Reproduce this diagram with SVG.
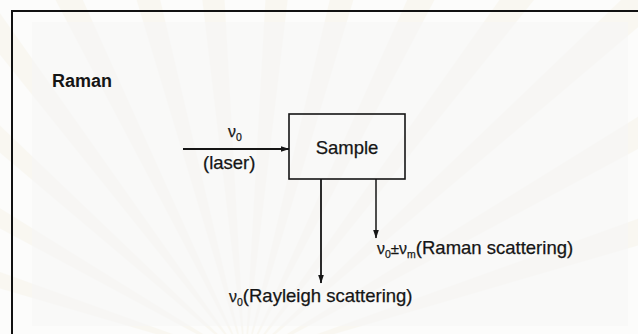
<svg xmlns="http://www.w3.org/2000/svg" xmlns:xlink="http://www.w3.org/1999/xlink" width="638" height="334" viewBox="0 0 638 334">
  <style>
    .lbl { font-family: "Liberation Sans", Arial, sans-serif; font-size: 18.5px; fill: #151515; stroke: #151515; stroke-width: 0.25px; }
    .nu { font-size: 16px; }
    .sub { font-size: 10.5px; }
    .pm { font-size: 15px; }
    .title { font-family: "Liberation Sans", Arial, sans-serif; font-size: 18px; font-weight: bold; fill: #151515; }
    .edge { stroke: #151515; fill: none; }
    .ray { fill: #ece3c4; opacity: 0.16; }
  </style>
  <defs>
    <marker id="arrow" markerWidth="9" markerHeight="6" refX="8.5" refY="3" orient="auto" markerUnits="userSpaceOnUse">
      <path d="M0,0 L9,3 L0,6 Z" fill="#151515"/>
    </marker>
    <path id="wedge" d="M245,360 L226,-260 L264,-260 Z"/>
  </defs>

  <!-- background and faint watermark rays -->
  <rect x="0" y="0" width="638" height="334" fill="#fcfcfb"/>
  <g id="watermark" class="ray">
    <use xlink:href="#wedge" transform="rotate(-72 245 360)"/>
    <use xlink:href="#wedge" transform="rotate(-60 245 360)"/>
    <use xlink:href="#wedge" transform="rotate(-48 245 360)"/>
    <use xlink:href="#wedge" transform="rotate(-37 245 360)"/>
    <use xlink:href="#wedge" transform="rotate(-26 245 360)"/>
    <use xlink:href="#wedge" transform="rotate(-15 245 360)"/>
    <use xlink:href="#wedge" transform="rotate(-5 245 360)"/>
    <use xlink:href="#wedge" transform="rotate(5 245 360)"/>
    <use xlink:href="#wedge" transform="rotate(15 245 360)"/>
    <use xlink:href="#wedge" transform="rotate(26 245 360)"/>
    <use xlink:href="#wedge" transform="rotate(37 245 360)"/>
    <use xlink:href="#wedge" transform="rotate(48 245 360)"/>
    <use xlink:href="#wedge" transform="rotate(60 245 360)"/>
    <use xlink:href="#wedge" transform="rotate(72 245 360)"/>
  </g>
  <rect x="32" y="22" width="596" height="304" fill="#f6f6f6" opacity="0.55"/>

  <!-- frame -->
  <g id="frame" stroke="#111" stroke-width="2" fill="none">
    <path d="M12,334 L12,11 L638,11"/>
  </g>

  <text id="title" class="title" x="52" y="87">Raman</text>

  <g id="sample">
    <rect x="289" y="114" width="116" height="65" fill="none" stroke="#151515" stroke-width="1.6"/>
    <text class="lbl" x="347" y="154" text-anchor="middle">Sample</text>
  </g>

  <g id="connectors">
    <line class="edge" x1="183" y1="149" x2="289" y2="149" stroke-width="2" marker-end="url(#arrow)"/>
    <line class="edge" x1="321" y1="179" x2="321" y2="283" stroke-width="1.8" marker-end="url(#arrow)"/>
    <line class="edge" x1="376" y1="179" x2="376" y2="238" stroke-width="1.5" marker-end="url(#arrow)"/>
  </g>

  <g id="labels">
    <text class="lbl" x="228" y="137"><tspan class="nu">ν</tspan><tspan class="sub" dy="4">0</tspan></text>
    <text class="lbl" x="203" y="169">(laser)</text>
    <text class="lbl" x="377" y="254"><tspan class="nu">ν</tspan><tspan class="sub" dy="4">0</tspan><tspan class="pm" dy="-4">±</tspan><tspan class="nu">ν</tspan><tspan class="sub" dy="4">m</tspan><tspan dy="-4">(Raman scattering)</tspan></text>
    <text class="lbl" x="229" y="302" font-size="19"><tspan class="nu">ν</tspan><tspan class="sub" dy="4">0</tspan><tspan dy="-4">(Rayleigh scattering)</tspan></text>
  </g>
</svg>
